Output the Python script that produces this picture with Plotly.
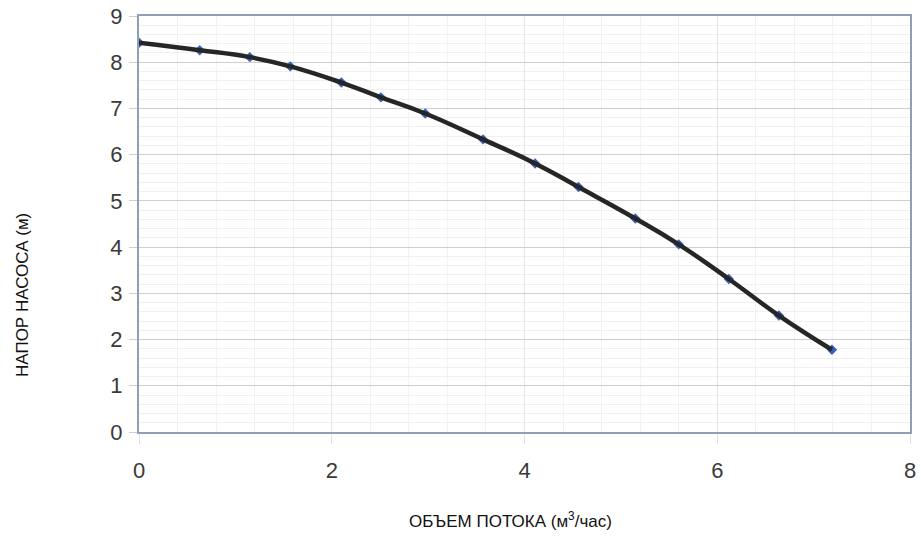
import plotly.graph_objects as go

flow = [0.0, 0.63, 1.15, 1.57, 2.10, 2.51, 2.97, 3.57, 4.11, 4.56, 5.15, 5.60, 6.12, 6.64, 7.19]
head = [8.42, 8.26, 8.11, 7.91, 7.56, 7.24, 6.89, 6.33, 5.81, 5.30, 4.62, 4.06, 3.31, 2.52, 1.78]
x_ticks = [0, 2, 4, 6, 8]
y_ticks = [0, 1, 2, 3, 4, 5, 6, 7, 8, 9]

W, H = 921, 545
L, T, R, B = 139, 16, 11, 113
PW, PH = W - L - R, H - T - B

fig = go.Figure()
fig.add_trace(go.Scatter(x=flow, y=head, mode="markers",
                         marker=dict(symbol="diamond", size=8, color="#3a5fc0"),
                         showlegend=False))
fig.add_trace(go.Scatter(x=flow, y=head, mode="lines",
                         line=dict(color="#262626", width=4.5, shape="spline", smoothing=1.3),
                         showlegend=False))

fig.update_layout(
    width=W, height=H,
    margin=dict(l=L, r=R, t=T, b=B, autoexpand=False),
    paper_bgcolor="white", plot_bgcolor="white",
    font=dict(family="Liberation Sans, Arial, sans-serif", color="#333333"),
    xaxis=dict(range=[0, 8], tickvals=x_ticks, ticktext=[str(v) for v in x_ticks],
               automargin=False, ticklabeloverflow="allow",
               showgrid=True, gridcolor="#e2e6ea", gridwidth=1,
               minor=dict(dtick=0.4, showgrid=True, gridcolor="#f0f2f4", gridwidth=1),
               ticks="outside", ticklen=10, tickcolor="#e0e0e0",
               tickfont=dict(size=22, color="#3a3a3a"), ticklabelstandoff=8,
               showline=True, linecolor="#90a0b3", linewidth=2, mirror=True,
               zeroline=False),
    yaxis=dict(range=[0, 9], tickvals=y_ticks, ticktext=[str(v) for v in y_ticks],
               automargin=False, ticklabeloverflow="allow",
               showgrid=True, gridcolor="#cfcfcf", gridwidth=1,
               minor=dict(dtick=0.2, showgrid=True, gridcolor="#f0f0f0", gridwidth=1),
               ticks="outside", ticklen=8, tickcolor="#d0d0d0",
               tickfont=dict(size=22, color="#3a3a3a"), ticklabelstandoff=2,
               showline=True, linecolor="#90a0b3", linewidth=2, mirror=True,
               zeroline=False),
    annotations=[
        dict(text="ОБЪЕМ ПОТОКА (м<sup>3</sup>/час)", xref="paper", yref="paper",
             x=(510 - L) / PW, y=(H - 520 - B) / PH, xanchor="center", yanchor="middle",
             showarrow=False,
             font=dict(family="Liberation Sans, sans-serif", size=17, color="#111111")),
        dict(text="НАПОР НАСОСА (м)", xref="paper", yref="paper", textangle=-90,
             x=(22 - L) / PW, y=(H - 295 - B) / PH, xanchor="center", yanchor="middle",
             showarrow=False,
             font=dict(family="Liberation Sans, sans-serif", size=17, color="#111111")),
    ],
)

fig.write_html("out.html", config={"displayModeBar": False},
               post_script="document.body.style.margin='0';")
